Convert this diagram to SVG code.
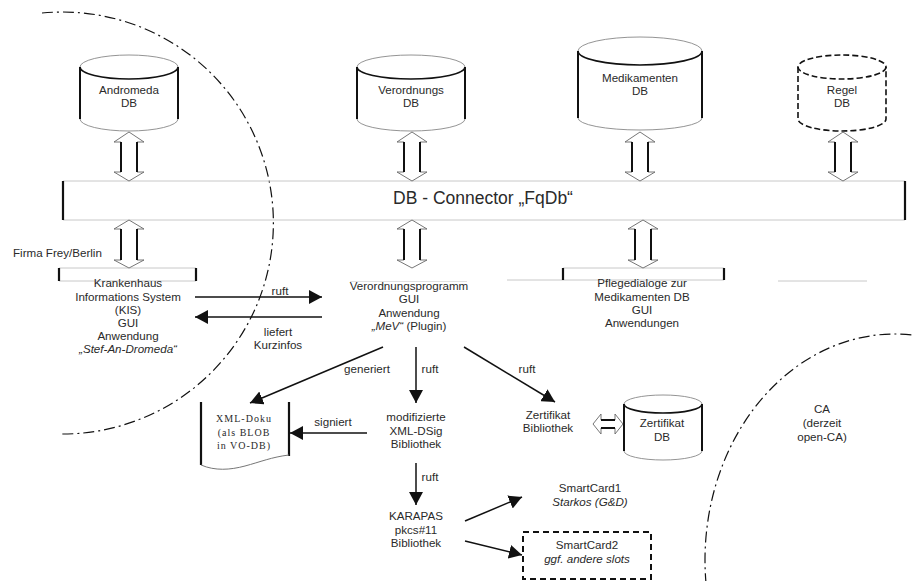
<svg xmlns="http://www.w3.org/2000/svg" width="912" height="581" viewBox="0 0 912 581">
<style>
text{font-family:"Liberation Sans",Arial,sans-serif;font-size:11.6px;fill:#2a2a2a;text-anchor:middle}
.it{font-style:italic}
.ser{font-family:"Liberation Serif","Times New Roman",serif;font-size:10px;letter-spacing:1px}
.big{font-size:17.5px}
.lt{stroke:#c8c8c8;stroke-width:1;fill:none}
.thick{stroke:#111;stroke-width:2.2;fill:none}
.side{stroke:#111;stroke-width:2;fill:none}
.front{stroke:#111;stroke-width:1.6;fill:none}
.back{stroke:#888;stroke-width:0.9;fill:none}
.dash{stroke:#111;stroke-width:1.6;fill:none;stroke-dasharray:6 3}
.arr{stroke:#111;stroke-width:1.5;fill:none;marker-end:url(#ah)}
.dbl{fill:#fff;stroke:#666;stroke-width:0.9}
.sh{stroke:#111;stroke-width:2;fill:none}
.dd{stroke:#111;stroke-width:1.2;fill:none;stroke-dasharray:11 4 2 4}
</style>
<defs>
<marker id="ah" markerUnits="userSpaceOnUse" markerWidth="14" markerHeight="14" refX="13" refY="7" orient="auto">
<path d="M0,0 L13,7 L0,14 z" fill="#111"/>
</marker>
</defs>
<rect width="912" height="581" fill="#fff"/>

<!-- boundaries -->
<g id="boundaries">
<path class="dd" d="M42 13 A 211 211 0 1 1 60 434"/>
<ellipse class="dd" cx="895" cy="560" rx="190" ry="226"/>
</g>

<!-- databases -->
<g id="andromeda-db">
<path class="back" d="M80 67 A49 12 0 0 1 178 67"/>
<path class="front" d="M80 67 A49 12 0 0 0 178 67"/>
<path class="side" d="M80 67 V119 M178 67 V119"/>
<path class="back" d="M80 119 A49 12 0 0 0 178 119"/>
<text x="129" y="94">Andromeda</text><text x="129" y="107">DB</text>
</g>
<g id="verordnungs-db">
<path class="back" d="M357 67 A54 12 0 0 1 465 67"/>
<path class="front" d="M357 67 A54 12 0 0 0 465 67"/>
<path class="side" d="M357 67 V119 M465 67 V119"/>
<path class="back" d="M357 119 A54 12 0 0 0 465 119"/>
<text x="411" y="94">Verordnungs</text><text x="411" y="107">DB</text>
</g>
<g id="medikamenten-db">
<path class="back" d="M578 51 A62 14 0 0 1 702 51"/>
<path class="front" d="M578 51 A62 14 0 0 0 702 51"/>
<path class="side" d="M578 51 V118 M702 51 V118"/>
<path class="back" d="M578 118 A62 12 0 0 0 702 118"/>
<text x="640" y="82">Medikamenten</text><text x="640" y="95">DB</text>
</g>
<g id="regel-db">
<ellipse class="dash" cx="842" cy="67" rx="44" ry="12"/>
<path class="dash" d="M798 67 V119 A44 12 0 0 0 886 119 V67"/>
<text x="842" y="94">Regel</text><text x="842" y="107">DB</text>
</g>

<!-- DB connector -->
<g id="db-connector">
<path class="lt" d="M63 181 H905 M63 220 H905"/>
<path class="thick" d="M63 181 V220 M905 181 V220"/>
<text class="big" x="483" y="204">DB - Connector „FqDb“</text>
</g>

<!-- Krankenhaus -->
<g id="kis">
<path class="lt" d="M59 268 H196 M59 281 H196"/>
<path class="thick" d="M59 268 V281 M196 268 V281"/>
<text x="13" y="257" style="text-anchor:start">Firma Frey/Berlin</text>
<text x="128" y="287">Krankenhaus</text>
<text x="128" y="300.5">Informations System</text>
<text x="128" y="314">(KIS)</text>
<text x="128" y="327">GUI</text>
<text x="128" y="340">Anwendung</text>
<text x="128" y="353" class="it">„Stef-An-Dromeda“</text>
</g>

<g id="verordnungsprogramm">
<path d="M350 281.5 H467" stroke="#e2e2e2" stroke-width="1"/>
<text x="409" y="290">Verordnungsprogramm</text>
<text x="409" y="303.3">GUI</text>
<text x="409" y="316.6">Anwendung</text>
<text x="409" y="330"><tspan class="it">„MeV“</tspan> (Plugin)</text>
</g>

<g id="pflegedialoge">
<path class="lt" d="M563 268 H724 M507 280 H724 M778 281 H867"/>
<path class="thick" d="M563 268 V280 M724 268 V280"/>
<text x="642" y="287">Pflegedialoge zur</text>
<text x="642" y="300.5">Medikamenten DB</text>
<text x="642" y="314">GUI</text>
<text x="642" y="327">Anwendungen</text>
</g>

<g id="xml-doku">
<path class="thick" d="M201 402 V465 M289 402 V456"/>
<path d="M201 465 C215 471 230 470 245 466 C260 462 272 457 289 455" stroke="#777" stroke-width="1" fill="none"/>
<text class="ser" x="244" y="421.5">XML-Doku</text>
<text class="ser" x="244" y="435.5">(als BLOB</text>
<text class="ser" x="244" y="448.5">in VO-DB)</text>
</g>

<g id="xml-dsig">
<text x="416" y="421">modifizierte</text>
<text x="416" y="434.5">XML-DSig</text>
<text x="416" y="448">Bibliothek</text>
</g>

<g id="karapas">
<text x="416" y="520">KARAPAS</text>
<text x="416" y="534">pkcs#11</text>
<text x="416" y="547">Bibliothek</text>
</g>

<g id="zertifikat-bibliothek">
<text x="548" y="419">Zertifikat</text>
<text x="548" y="432">Bibliothek</text>
</g>

<g id="zertifikat-db">
<path class="back" d="M624 404 A39 9 0 0 1 702 404"/>
<path class="front" d="M624 404 A39 9 0 0 0 702 404"/>
<path class="side" d="M624 404 V451 M702 404 V451"/>
<path class="back" d="M624 451 A39 9 0 0 0 702 451"/>
<text x="662" y="427">Zertifikat</text><text x="662" y="441">DB</text>
</g>

<g id="smartcard1">
<text x="590" y="492">SmartCard1</text>
<text x="590" y="506" class="it">Starkos (G&amp;D)</text>
</g>

<g id="smartcard2">
<rect x="523" y="532" width="128" height="47" fill="none" stroke="#111" stroke-width="2" stroke-dasharray="6 4"/>
<text x="587" y="549">SmartCard2</text>
<text x="587" y="563" class="it">ggf. andere slots</text>
</g>

<g id="ca">
<text x="822" y="413">CA</text>
<text x="822" y="427">(derzeit</text>
<text x="822" y="441">open-CA)</text>
</g>

<!-- connectors -->
<g id="connectors">
<!-- vertical double arrows top -->
<g>
<path class="dbl" d="M129 132 L144 142 L137 142 L137 172 L144 172 L129 181 L114 172 L121 172 L121 142 L114 142 Z"/>
<path class="sh" d="M121 142 V172 M137 142 V172"/>
<path class="dbl" d="M412 132 L427 142 L420 142 L420 172 L427 172 L412 181 L397 172 L404 172 L404 142 L397 142 Z"/>
<path class="sh" d="M404 142 V172 M420 142 V172"/>
<path class="dbl" d="M640 132 L655 142 L648 142 L648 172 L655 172 L640 181 L625 172 L632 172 L632 142 L625 142 Z"/>
<path class="sh" d="M632 142 V172 M648 142 V172"/>
<path class="dbl" d="M843 132 L858 142 L851 142 L851 172 L858 172 L843 181 L828 172 L835 172 L835 142 L828 142 Z"/>
<path class="sh" d="M835 142 V172 M851 142 V172"/>
</g>
<!-- vertical double arrows bottom -->
<g>
<path class="dbl" d="M129 220 L144 229 L137 229 L137 260 L144 260 L129 268 L114 260 L121 260 L121 229 L114 229 Z"/>
<path class="sh" d="M121 229 V260 M137 229 V260"/>
<path class="dbl" d="M412 220 L427 229 L420 229 L420 260 L427 260 L412 268 L397 260 L404 260 L404 229 L397 229 Z"/>
<path class="sh" d="M404 229 V260 M420 229 V260"/>
<path class="dbl" d="M643 220 L658 229 L651 229 L651 260 L658 260 L643 268 L628 260 L635 260 L635 229 L628 229 Z"/>
<path class="sh" d="M635 229 V260 M651 229 V260"/>
</g>
<!-- horizontal double arrow zertifikat -->
<path class="dbl" d="M593 424 L601 414 L601 420 L615 420 L615 414 L623 424 L615 434 L615 428 L601 428 L601 434 Z"/>
<path class="sh" d="M601 420 H615 M601 428 H615" stroke-width="1.6"/>

<path class="arr" d="M195 297 H322"/>
<text x="280" y="295">ruft</text>
<path class="arr" d="M322 317 H195"/>
<text x="278" y="336">liefert</text>
<text x="278" y="349">Kurzinfos</text>

<path class="arr" d="M383 347 L250 403"/>
<text x="367" y="373">generiert</text>
<path class="arr" d="M416 347 V403"/>
<text x="430" y="373">ruft</text>
<path class="arr" d="M464 347 L555 402"/>
<text x="527" y="373">ruft</text>

<path class="arr" d="M367 433 H290"/>
<text x="333" y="426">signiert</text>

<path class="arr" d="M416 463 V505"/>
<text x="430" y="481">ruft</text>

<path class="arr" d="M465 521 L522 497"/>
<path class="arr" d="M465 541 L522 555"/>
</g>
</svg>
